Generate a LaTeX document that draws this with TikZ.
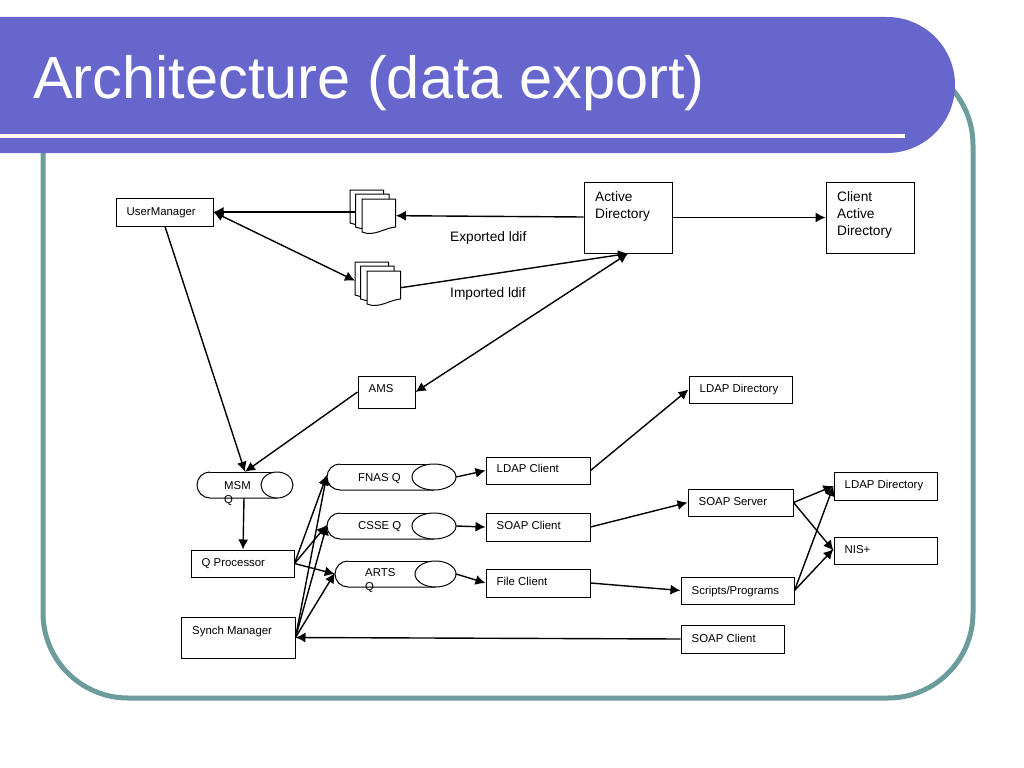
\documentclass[tikz,border=0pt]{standalone}
\usepackage{fontspec}
\setmainfont{Liberation Sans}
\usetikzlibrary{arrows.meta}
\definecolor{slide-blau}{HTML}{6666CC}
\definecolor{slide-teal}{HTML}{6C9C9C}

\tikzset{
    boxnode/.style={draw, line width=1bp, fill=white, inner sep=0pt, font=\fontsize{11.4bp}{14bp}\selectfont},
    boxlabel/.style={inner sep=0pt, anchor=west, align=left, font=\fontsize{11.4bp}{14bp}\selectfont},
    boxtext/.style={inner sep=0pt, anchor=north west, align=left, font=\fontsize{13.7bp}{17bp}\selectfont},
    flow/.style={line width=1.4bp, -{Latex[length=10bp,width=10bp]}},
    flowboth/.style={line width=1.4bp, {Latex[length=10bp,width=10bp]}-{Latex[length=10bp,width=10bp]}},
    docsheet/.style={draw, line width=1bp, fill=white},
    docstack/.pic={
        \foreach \n/\dx/\dy in {back/0/0,mid/5.5/4,front/12/9} {
            \draw[docsheet] (\dx,\dy) -- ++(33.5,0) -- ++(0,28)
                .. controls ({\dx+22},{\dy+29}) and ({\dx+12},{\dy+38}) .. ({\dx},{\dy+33}) -- cycle;
            \node[inner sep=0pt, minimum width=33.5bp, minimum height=33bp, anchor=north west] (-\n) at (\dx,\dy) {};
        }
    }
}

% Box mit Text links: [Textversatz], Name, Mitte x, Mitte y, Breite, Hoehe, Text
\newcommand{\textbox}[7][0.5]{
    \node[boxnode, minimum width=#5bp, minimum height=#6bp] (#2) at (#3,#4) {};
    \node[boxlabel] (#2-text) at ([xshift=11bp,yshift=#1bp]#2.west) {#7};
}

% Queue: Name, links, rechts, Mitte y, Radius der Ellipse
\newcommand{\queuenode}[5]{
    \node[inner sep=0pt, minimum width=#3bp-#2bp, minimum height=26bp] (#1) at ({(#2+#3)/2},#4) {};
    \draw[line width=1bp] ({#2+13},#4-13) arc[start angle=90, end angle=270, radius=13bp] -- ({#3-#5},#4+13);
    \draw[line width=1bp] ({#2+13},#4-13) -- ({#3-#5},#4-13);
    \draw[line width=1bp, fill=white] ({#3-#5},#4) ellipse (#5bp and 13bp);
}

\begin{document}
\begin{tikzpicture}[x=1bp, y=-1bp]
    \useasboundingbox (0,0) rectangle (1024,768);

    % Rahmen und Titel
    \draw[slide-teal, line width=5bp, rounded corners=85bp] (43,60) rectangle (973,698);
    \fill[slide-blau] (0,17) -- (887,17) arc[start angle=90, end angle=-90, radius=68bp] -- (0,153) -- cycle;
    \draw[white, line width=4bp] (0,136) -- (905,136);
    \node[white, inner sep=0pt, anchor=west, font=\fontsize{59.5bp}{60bp}\selectfont] (title) at (33,83) {Architecture (data export)};

    % Boxen
    \textbox[-0.5]{usermanager}{164.5}{212}{97}{28}{UserManager}
    \textbox[3.5]{ams}{386.5}{392}{57}{32}{AMS}
    \textbox[-0.5]{ldapdir}{740.5}{389.5}{103}{27}{LDAP Directory}
    \textbox[2.5]{ldapclient}{538}{470.5}{104}{27}{LDAP Client}
    \textbox[1.5]{soapclient}{538}{527}{104}{28}{SOAP Client}
    \textbox[1.5]{fileclient}{538}{583}{104}{28}{File Client}
    \textbox{soapserver}{740.5}{502.5}{105}{27}{SOAP Server}
    \textbox[-1.5]{scripts}{737.5}{590.5}{113}{27}{Scripts/Programs}
    \textbox{soapclientb}{732.5}{639}{103}{28}{SOAP Client}
    \textbox{ldapdirb}{885.5}{486}{103}{28}{LDAP Directory}
    \textbox{nis}{885.5}{550.5}{103}{27}{NIS+}
    \textbox[-0.5]{qprocessor}{242.5}{563.5}{103}{27}{Q Processor}

    \node[boxnode, minimum width=88bp, minimum height=71bp] (activedir) at (628,217.5) {};
    \node[boxtext] (activedir-text) at (595,191) {Active\\Directory};
    \node[boxnode, minimum width=88bp, minimum height=71bp] (clientdir) at (870,217.5) {};
    \node[boxtext] (clientdir-text) at (837,191) {Client\\Active\\Directory};
    \node[boxnode, minimum width=114bp, minimum height=41bp] (synch) at (238,637.5) {};
    \node[boxlabel] (synch-text) at (192,632) {Synch Manager};

    % Dateien
    \pic (docA) at (350,190) {docstack};
    \pic (docB) at (355,262) {docstack};
    \node[boxtext] (exported) at (450,231) {Exported ldif};
    \node[boxtext] (imported) at (450,287) {Imported ldif};

    % Queues
    \queuenode{msmq}{197}{293}{485}{16}
    \queuenode{fnasq}{327}{456}{477}{22}
    \queuenode{csseq}{327}{456}{526}{22}
    \queuenode{artsq}{335}{456}{574}{20.5}
    \node[boxlabel, anchor=north west] (msmq-text) at (224,481.5) {MSM\\Q};
    \node[boxlabel] (fnasq-text) at (358,478.5) {FNAS Q};
    \node[boxlabel] (csseq-text) at (358,526.5) {CSSE Q};
    \node[boxlabel, anchor=north west] (artsq-text) at (365,568.5) {ARTS\\Q};

    % Verbindungen oben
    \draw[flow] (docA-mid.west |- usermanager.east) -- (usermanager.east);
    \draw[flow] ([yshift=0.5bp]activedir.west) -- (docA-front.east);
    \draw[flow] (activedir.east) -- (clientdir.west);
    \draw[flowboth] (usermanager.east) -- ([yshift=-2bp]docB-back.west);
    \draw[flow] (docB-front.east) -- (activedir.south);
    \draw[flowboth] (activedir.south) -- (ams.east);
    \draw[flow] ([xshift=0.5bp]usermanager.south) -- (msmq.north);
    \draw[flow] (ams.west) -- (msmq.north);
    \draw[flow] ([xshift=-1bp]msmq.south) -- ([xshift=0.5bp]qprocessor.north);

    % Queues verteilen
    \draw[flow] (qprocessor.east) -- ([yshift=2bp]fnasq.west);
    \draw[flow] (qprocessor.east) -- ([yshift=1bp]csseq.west);
    \draw[flow] (qprocessor.east) -- (artsq.west);
    \draw[flow] (synch.east) -- ([yshift=2bp]fnasq.west);
    \draw[flow] (synch.east) -- ([yshift=1bp]csseq.west);
    \draw[flow] (synch.east) -- ([yshift=1bp]artsq.west);
    \draw[flow] (fnasq.east) -- (ldapclient.west);
    \draw[flow] (csseq.east) -- (soapclient.west);
    \draw[flow] (artsq.east) -- (fileclient.west);

    % rechte Seite
    \draw[flow] (ldapclient.east) -- (ldapdir.west);
    \draw[flow] (soapclient.east) -- (soapserver.west);
    \draw[flow] (fileclient.east) -- (scripts.west);
    \draw[flow] (soapserver.east) -- (ldapdirb.west);
    \draw[flow] (soapserver.east) -- (nis.west);
    \draw[flow] (scripts.east) -- (ldapdirb.west);
    \draw[flow] (scripts.east) -- ([yshift=1.5bp]nis.west);
    \draw[flow] (soapclientb.west) -- (synch.east);
\end{tikzpicture}
\end{document}
